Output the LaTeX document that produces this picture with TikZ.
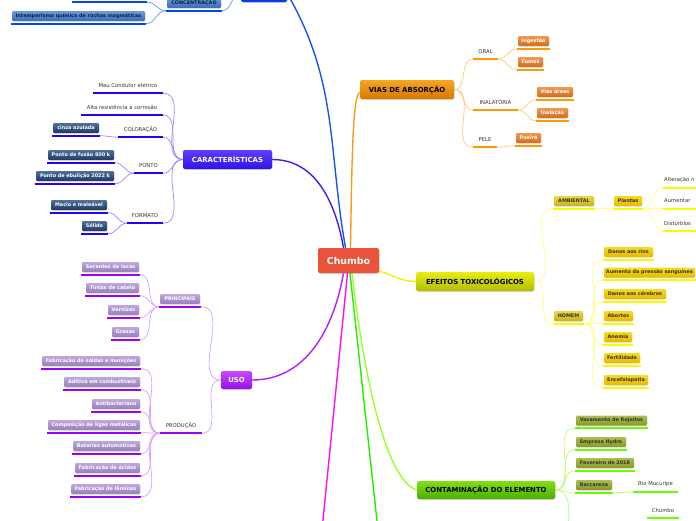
\documentclass[tikz,border=0pt]{standalone}
\usepackage{fontspec}
\setmainfont{DejaVu Sans}
\usepackage{tikz}
\usetikzlibrary{calc, shadows, backgrounds}
\definecolor{ChumboRed}{HTML}{E8533A}
\definecolor{TxtGray}{HTML}{333333}
% orange branch
\definecolor{OrTop}{HTML}{F5A623}
\definecolor{OrBot}{HTML}{D87800}
\definecolor{OrLine}{HTML}{F99A1C}
\definecolor{OrLink}{HTML}{FFC878}
\definecolor{OrUL}{HTML}{FF9A00}
\definecolor{OsubTop}{HTML}{F09A50}
\definecolor{OsubBot}{HTML}{D46C1E}
% yellow branch
\definecolor{YelTop}{HTML}{E8EE12}
\definecolor{YelBot}{HTML}{B2BC00}
\definecolor{YelLine}{HTML}{F2F200}
\definecolor{YelLink}{HTML}{FFFF8A}
\definecolor{YelUL}{HTML}{FAFA00}
\definecolor{YboxTop}{HTML}{F8DA22}
\definecolor{YboxBot}{HTML}{E6B800}
\definecolor{HboxTop}{HTML}{E8DA48}
\definecolor{HboxBot}{HTML}{C6B21A}
% green branch
\definecolor{GrnTop}{HTML}{80E012}
\definecolor{GrnBot}{HTML}{4CAE00}
\definecolor{GrnBright}{HTML}{22EE00}
\definecolor{GrnLight}{HTML}{99FF33}
\definecolor{GrnLink}{HTML}{B8FF70}
\definecolor{GrnUL}{HTML}{66FF00}
\definecolor{GboxTop}{HTML}{ACBE52}
\definecolor{GboxBot}{HTML}{889828}
% purple branch
\definecolor{UsoTop}{HTML}{C64AFF}
\definecolor{UsoBot}{HTML}{9810E6}
\definecolor{UsoLine}{HTML}{B020FF}
\definecolor{UsoLink}{HTML}{D8A0FF}
\definecolor{UsoUL}{HTML}{A000F0}
\definecolor{PboxTop}{HTML}{BEA8DC}
\definecolor{PboxBot}{HTML}{9880BC}
\definecolor{Magenta}{HTML}{FF10F0}
% violet branch
\definecolor{CarTop}{HTML}{5C3EFF}
\definecolor{CarBot}{HTML}{3014E6}
\definecolor{CarLine}{HTML}{3A20F0}
\definecolor{CarLink}{HTML}{9A88FF}
\definecolor{CarUL}{HTML}{2A00F0}
\definecolor{DboxTop}{HTML}{50709A}
\definecolor{DboxBot}{HTML}{1E3A62}
% top blue branch
\definecolor{TopLine}{HTML}{1A55E8}
\definecolor{TopNode}{HTML}{0A3ED8}
\definecolor{TopLink}{HTML}{6A98F0}
\definecolor{TopUL}{HTML}{0048E8}
\definecolor{CboxTop}{HTML}{6C9ADA}
\definecolor{CboxBot}{HTML}{3A6CB4}
\definecolor{CboxTxt}{HTML}{0A2040}
\newcommand{\branchfont}{\bfseries\fontsize{6.9}{8}\selectfont}
\newcommand{\boxfont}{\bfseries\fontsize{4.9}{5.8}\selectfont}
\newcommand{\txtfont}{\fontsize{5.3}{6.3}\selectfont}

\begin{document}
\begin{tikzpicture}[x=1pt, y=1pt,
    sz/.style 2 args={minimum width=#1pt, minimum height=#2pt},
    branch/.style={rounded corners=2pt, inner sep=0pt, font=\branchfont, drop shadow={opacity=0.3, shadow xshift=0.6pt, shadow yshift=-0.8pt}},
    subbox/.style={rounded corners=1.2pt, inner sep=0pt, font=\boxfont, drop shadow={opacity=0.25, shadow xshift=0.4pt, shadow yshift=-0.6pt}},
    txt/.style={inner sep=0pt, font=\txtfont, text=TxtGray},
    obox/.style={subbox, top color=OsubTop, bottom color=OsubBot, text=white},
    ybox/.style={subbox, top color=YboxTop, bottom color=YboxBot, text=black!80},
    hbox/.style={subbox, top color=HboxTop, bottom color=HboxBot, text=black!80},
    gbox/.style={subbox, top color=GboxTop, bottom color=GboxBot, text=black!80},
    pbox/.style={subbox, top color=PboxTop, bottom color=PboxBot, text=white},
    dbox/.style={subbox, top color=DboxTop, bottom color=DboxBot, text=white},
    cbox/.style={subbox, top color=CboxTop, bottom color=CboxBot, text=CboxTxt},
    uline/.style={draw=#1, line width=2.2pt},
    link/.style={draw=#1, line width=0.7pt},
    trunk/.style={draw=#1, line width=1.4pt},
]
\useasboundingbox (0,0) rectangle (696,-520);

% centre
\node (chumbo) [branch, sz={61}{25}, fill=ChumboRed, text=white, font=\bfseries\fontsize{9.4}{11}\selectfont] at (348.5,-260.5) {Chumbo};

% main branches
\node (topn) [branch, sz={46}{17}, fill=TopNode] at (264,6.5) {};
\node (carac) [branch, sz={89}{19}, top color=CarTop, bottom color=CarBot, text=white] at (227.5,-159.5) {CARACTERÍSTICAS};
\node (uso) [branch, sz={31}{18}, top color=UsoTop, bottom color=UsoBot, text=white] at (236.5,-380) {USO};
\node (vias) [branch, sz={94}{19}, top color=OrTop, bottom color=OrBot, text=black] at (407,-89.5) {VIAS DE ABSORÇÃO};
\node (efeitos) [branch, sz={118}{19}, top color=YelTop, bottom color=YelBot, text=black] at (475,-281.5) {EFEITOS TOXICOLÓGICOS};
\node (contam) [branch, sz={138}{18}, top color=GrnTop, bottom color=GrnBot, text=black] at (486,-490) {CONTAMINAÇÃO DO ELEMENTO};
\coordinate (magend) at (322,-530);
\coordinate (grnend) at (378,-530);
\coordinate (grnoff) at (568,-535);

% concentracao
\node (conc) [cbox, sz={54}{10}] at (194,-3) {CONCENTRAÇÃO};
\node (int) [cbox, sz={133}{10}] at (78.5,-16) {Intemperismo químico de rochas magmáticas};
\node (abv) [cbox, sz={73}{10}] at (109.5,5.5) {};

% caracteristicas
\node (mau) [txt, sz={68}{10}] at (128,-85.5) {Mau Condutor elétrico};
\node (alta) [txt, sz={80}{10}] at (122,-107.5) {Alta resistência à corrosão};
\node (col) [txt, sz={43}{10}] at (140.5,-129.5) {COLORAÇÃO};
\node (cin) [dbox, sz={46}{10}] at (76,-128) {cinza azulada};
\node (pon) [txt, sz={27}{10}] at (148.5,-165.5) {PONTO};
\node (fus) [dbox, sz={66}{10}] at (81,-155) {Ponto de fusão 600 k};
\node (ebu) [dbox, sz={78}{10}] at (75,-176) {Ponto de ebulição 2022 k};
\node (for) [txt, sz={34}{10}] at (145,-215.5) {FORMATO};
\node (mac) [dbox, sz={56}{10}] at (79,-205) {Macio e maleável};
\node (sld) [dbox, sz={25}{10}] at (94.5,-226) {Sólido};

% uso
\node (pri) [pbox, sz={40}{10}] at (180,-299) {PRINCIPAIS};
\node (sec) [pbox, sz={57}{10}] at (110.5,-267) {Secantes de lacas};
\node (tin) [pbox, sz={53}{10}] at (112.5,-288) {Tintas de cabelo};
\node (ver) [pbox, sz={31}{10}] at (123.5,-310) {Vernizes};
\node (gra) [pbox, sz={27}{10}] at (125.5,-332) {Graxas};
\node (pro) [txt, sz={40}{10}] at (181,-425.5) {PRODUÇÃO};
\node (sol) [pbox, sz={98}{10}] at (91,-361) {Fabricação de soldas e munições};
\node (adi) [pbox, sz={76}{10}] at (102,-382) {Aditivo em combustíveis};
\node (ant) [pbox, sz={48}{10}] at (116,-404) {Antibacteriano};
\node (com) [pbox, sz={92}{10}] at (94,-425) {Composição de ligas metálicas};
\node (bat) [pbox, sz={67}{10}] at (106.5,-446) {Baterias automotivas};
\node (aci) [pbox, sz={65}{10}] at (107.5,-468) {Fabricação de ácidos};
\node (lam) [pbox, sz={69}{10}] at (105.5,-489) {Fabricação de lâminas};

% vias de absorcao
\node (oral) [txt, sz={23}{10}] at (485.5,-51.5) {ORAL};
\node (ing) [obox, sz={31}{10}] at (533.5,-41) {Ingestão};
\node (fum) [obox, sz={25}{10}] at (530.5,-62) {Fumos};
\node (inal) [txt, sz={43}{10}] at (495.5,-102.5) {INALATÓRIA};
\node (vaer) [obox, sz={36}{10}] at (555,-92) {Vias áreas};
\node (inla) [obox, sz={31}{10}] at (552.5,-113) {Inalação};
\node (pele) [txt, sz={22}{10}] at (485,-139.5) {PELE};
\node (poe) [obox, sz={25}{10}] at (528.5,-138) {Poeira};

% efeitos toxicologicos
\node (amb) [hbox, sz={40}{10}] at (574,-201) {AMBIENTAL};
\node (pla) [ybox, sz={28}{10}] at (628,-201) {Plantas};
\node (alt) [txt, minimum height=10pt, text width=40pt, align=left, anchor=west] at (664,-180) {Alteração n};
\node (aum) [txt, minimum height=10pt, text width=40pt, align=left, anchor=west] at (664,-201) {Aumentar};
\node (dis) [txt, minimum height=10pt, text width=40pt, align=left, anchor=west] at (664,-223) {Distúrbios};
\node (hom) [hbox, sz={29}{10}] at (568.5,-316) {HOMEM};
\node (rins) [ybox, sz={49}{10}] at (628.5,-252) {Danos aos rins};
\node (pres) [ybox, sz={91}{10}] at (649.5,-272.5) {Aumento da pressão sanguínea};
\node (cer) [ybox, sz={62}{10}] at (635,-294) {Danos aos cérebros};
\node (abo) [ybox, sz={29}{10}] at (618.5,-316) {Abortos};
\node (ane) [ybox, sz={28}{10}] at (618,-337) {Anemia};
\node (fer) [ybox, sz={36}{10}] at (622,-358) {Fertilidade};
\node (enc) [ybox, sz={44}{10}] at (626,-380) {Encefalopatia};

% contaminacao
\node (vaz) [gbox, sz={71}{10}] at (611.5,-420.5) {Vazamento de Rejeitos};
\node (hyd) [gbox, sz={50}{10}] at (601,-442) {Empresa Hydro};
\node (fev) [gbox, sz={58}{10}] at (605,-463) {Fevereiro de 2018};
\node (bar) [gbox, sz={36}{10}] at (594,-485) {Barcarena};
\node (rio) [txt, sz={43}{10}] at (655.5,-484.5) {Rio Mucuripe};
\node (chb) [txt, sz={30}{10}] at (663,-510.5) {Chumbo};

\begin{scope}[on background layer]
% underlines
\foreach \n in {conc,int,abv}{
  \coordinate (\n-l) at ($(\n.south west)+(-1,-2.5)$);
  \coordinate (\n-r) at ($(\n.south east)+(1,-2.5)$);
  \draw[uline=TopUL] (\n-l) -- (\n-r);
}
\foreach \n in {mau,alta,col,cin,pon,fus,ebu,for,mac,sld}{
  \coordinate (\n-l) at ($(\n.south west)+(-1,-2.5)$);
  \coordinate (\n-r) at ($(\n.south east)+(1,-2.5)$);
  \draw[uline=CarUL] (\n-l) -- (\n-r);
}
\foreach \n in {pri,sec,tin,ver,gra,pro,sol,adi,ant,com,bat,aci,lam}{
  \coordinate (\n-l) at ($(\n.south west)+(-1,-2.5)$);
  \coordinate (\n-r) at ($(\n.south east)+(1,-2.5)$);
  \draw[uline=UsoUL] (\n-l) -- (\n-r);
}
\foreach \n in {oral,ing,fum,inal,vaer,inla,pele,poe}{
  \coordinate (\n-l) at ($(\n.south west)+(-1,-2.5)$);
  \coordinate (\n-r) at ($(\n.south east)+(1,-2.5)$);
  \draw[uline=OrUL] (\n-l) -- (\n-r);
}
\foreach \n in {amb,pla,alt,aum,dis,hom,rins,pres,cer,abo,ane,fer,enc}{
  \coordinate (\n-l) at ($(\n.south west)+(-1,-2.5)$);
  \coordinate (\n-r) at ($(\n.south east)+(1,-2.5)$);
  \draw[uline=YelUL] (\n-l) -- (\n-r);
}
\foreach \n in {vaz,hyd,fev,bar,rio,chb}{
  \coordinate (\n-l) at ($(\n.south west)+(-1,-2.5)$);
  \coordinate (\n-r) at ($(\n.south east)+(1,-2.5)$);
  \draw[uline=GrnUL] (\n-l) -- (\n-r);
}

% trunks from the centre
\draw[trunk=TopLine] ($(chumbo.north)+(-3,0)$) to[out=100,in=-60] (topn.east);
\draw[trunk=CarLine] ($(chumbo.north)+(-5,0)$) to[out=100,in=0] (carac.east);
\draw[trunk=OrLine] ($(chumbo.north)+(2,0)$) .. controls (352,-150) and (353,-95) .. ($(vias.west)+(0,-3)$);
\draw[trunk=UsoLine] ($(chumbo.south)+(-5,0)$) to[out=-100,in=0] (uso.east);
\draw[trunk=Magenta] ($(chumbo.south)+(-1,0)$) -- (magend);
\draw[trunk=GrnBright] ($(chumbo.south)+(1.5,0)$) -- (grnend);
\draw[trunk=GrnLight] ($(chumbo.south)+(3.5,0)$) .. controls (363,-370) and (385,-480) .. (contam.west);
\draw[trunk=YelLine] ($(chumbo.south east)+(0,2)$) to[out=-15,in=180] (efeitos.west);

% links
\draw[link=TopLink] (topn.west) to[out=180,in=0] (conc-r);
\foreach \n in {int,abv} \draw[link=TopLink] (conc-l) to[out=180,in=0] (\n-r);

\foreach \n in {mau,alta,col,pon,for} \draw[link=CarLink] (carac.west) to[out=180,in=0] (\n-r);
\draw[link=CarLink] (col-l) to[out=180,in=0] (cin-r);
\foreach \n in {fus,ebu} \draw[link=CarLink] (pon-l) to[out=180,in=0] (\n-r);
\foreach \n in {mac,sld} \draw[link=CarLink] (for-l) to[out=180,in=0] (\n-r);

\foreach \n in {pri,pro} \draw[link=UsoLink] (uso.west) to[out=180,in=0] (\n-r);
\foreach \n in {sec,tin,ver,gra} \draw[link=UsoLink] (pri-l) to[out=180,in=0] (\n-r);
\foreach \n in {sol,adi,ant,com,bat,aci,lam} \draw[link=UsoLink] (pro-l) to[out=180,in=0] (\n-r);

\foreach \n in {oral,inal,pele} \draw[link=OrLink] (vias.east) to[out=0,in=180] (\n-l);
\foreach \n in {ing,fum} \draw[link=OrLink] (oral-r) to[out=0,in=180] (\n-l);
\foreach \n in {vaer,inla} \draw[link=OrLink] (inal-r) to[out=0,in=180] (\n-l);
\draw[link=OrLink] (pele-r) to[out=0,in=180] (poe-l);

\foreach \n in {amb,hom} \draw[link=YelLink] (efeitos.east) to[out=0,in=180] (\n-l);
\draw[link=YelLink] (amb-r) -- (pla-l);
\foreach \n in {alt,aum,dis} \draw[link=YelLink] (pla-r) to[out=0,in=180] (\n-l);
\foreach \n in {rins,pres,cer,abo,ane,fer,enc} \draw[link=YelLink] (hom-r) to[out=0,in=180] (\n-l);

\foreach \n in {vaz,hyd,fev,bar} \draw[link=GrnLink] (contam.east) to[out=0,in=180] (\n-l);
\draw[link=GrnLink] (contam.east) to[out=0,in=90] (grnoff);
\draw[link=GrnLink] (bar-r) to[out=0,in=180] (rio-l);
\end{scope}
\end{tikzpicture}
\end{document}
